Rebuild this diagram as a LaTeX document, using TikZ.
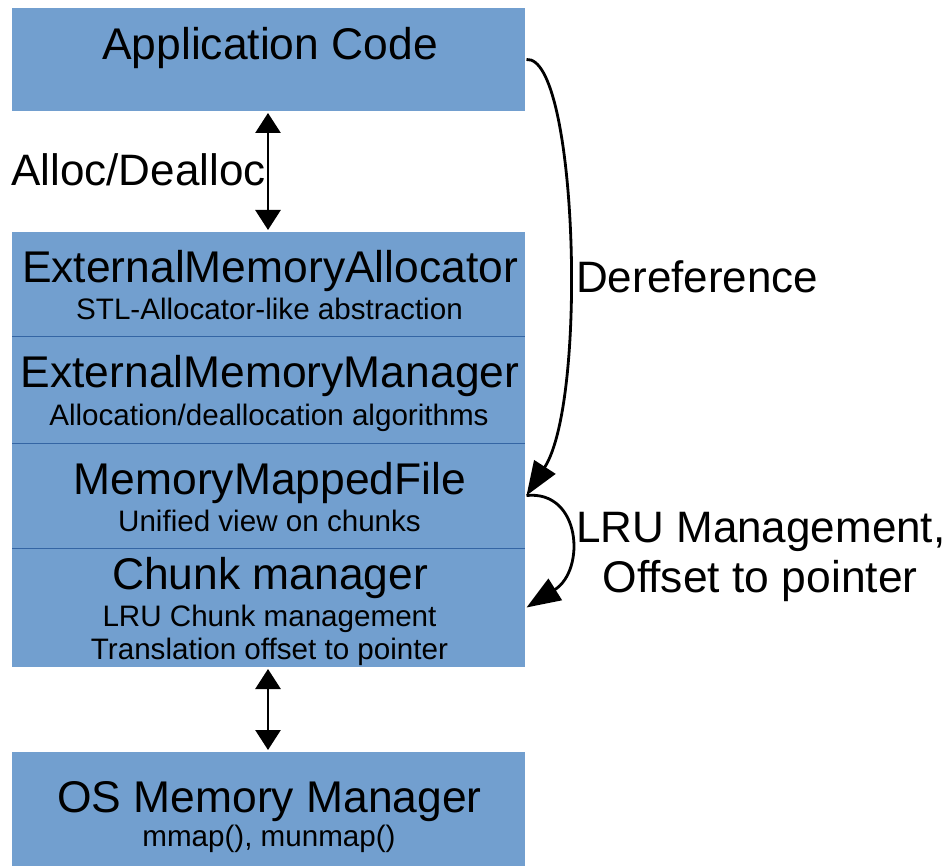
\documentclass[tikz,border=0pt]{standalone}
\usepackage{fontspec}
\setmainfont{Liberation Sans}
\usetikzlibrary{arrows.meta,calc}
\definecolor{layerfill}{HTML}{729FCF}
\definecolor{layerline}{HTML}{3465A4}

\begin{document}
\begin{tikzpicture}[x=1pt,y=-1pt,
  layer/.style={draw=none, fill=layerfill, minimum width=513pt, inner sep=0pt, outer sep=0pt},
  title/.style={anchor=base, font=\fontsize{44.4}{50}\selectfont, inner sep=0pt},
  sub/.style={anchor=base, font=\fontsize{29.6}{34}\selectfont, inner sep=0pt},
  lbl/.style={anchor=base west, font=\fontsize{44}{50}\selectfont, inner sep=0pt},
  divider/.style={draw=layerline, line width=1pt},
  dblarrow/.style={line width=2.8pt, {Triangle[length=20pt,width=25pt]}-{Triangle[length=20pt,width=25pt]}, shorten <=2pt, shorten >=2pt},
  bendarrow/.style={line width=2.8pt, -{Triangle[length=34pt,width=25pt]}}
]
\useasboundingbox (0,0) rectangle (950,866);

% layer boxes
\node[layer, minimum height=103pt] (app)   at (268.5,59.5) {};
\node[layer, minimum height=105pt] (ema)   at (268.5,284.5) {};
\node[layer, minimum height=106pt] (emm)   at (268.5,390) {};
\node[layer, minimum height=105pt] (mmf)   at (268.5,495.5) {};
\node[layer, minimum height=119pt] (chunk) at (268.5,607.5) {};
\node[layer, minimum height=114pt] (os)    at (268.5,809) {};

% separators inside the stack
\draw[divider] (ema.south west) -- (ema.south east);
\draw[divider] (emm.south west) -- (emm.south east);
\draw[divider] (mmf.south west) -- (mmf.south east);

% layer texts
\node[title] (appT)   at (270,60)  {Application Code};
\node[title] (emaT)   at (270,283) {ExternalMemoryAllocator};
\node[sub]   (emaS)   at (269.5,320) {STL-Allocator-like abstraction};
\node[title] (emmT)   at (270,388) {ExternalMemoryManager};
\node[sub]   (emmS)   at (269,425) {Allocation/deallocation algorithms};
\node[title] (mmfT)   at (270,494) {MemoryMappedFile};
\node[sub]   (mmfS)   at (269.5,531) {Unified view on chunks};
\node[title] (chunkT) at (270,589) {Chunk manager};
\node[sub]   (chunkS) at (269.5,626) {LRU Chunk management};
\node[sub]   (chunkU) at (269.5,659) {Translation offset to pointer};
\node[title] (osT)    at (269.5,812) {OS Memory Manager};
\node[sub]   (osS)    at (269,846) {mmap(), munmap()};

% side labels
\node[lbl] (allocL) at (11,186) {Alloc/Dealloc};
\node[lbl] (derefL) at (576,293) {Dereference};
\node[lbl] (lruL)   at (576,542) {LRU Management,};
\node[title] (offL) at (760,592) {Offset to pointer};

% connectors
\draw[dblarrow] ([xshift=-0.5pt]app.south) -- ([xshift=-0.5pt]ema.north);
\draw[dblarrow] ([xshift=-0.5pt]chunk.south) -- ([xshift=-0.5pt]os.north);
\draw[bendarrow] ([xshift=1.5pt]app.east)
  .. controls ($(app.east)+(52,-4.5)$) and ($(mmf.east)+(63,-95.5)$) .. ([xshift=1.5pt]mmf.east);
\draw[bendarrow] ([xshift=1.5pt]mmf.east)
  .. controls ($(mmf.east)+(56,-5.5)$) and ($(chunk.east)+(61,-37.5)$) .. ([xshift=1.5pt]chunk.east);
\end{tikzpicture}
\end{document}
